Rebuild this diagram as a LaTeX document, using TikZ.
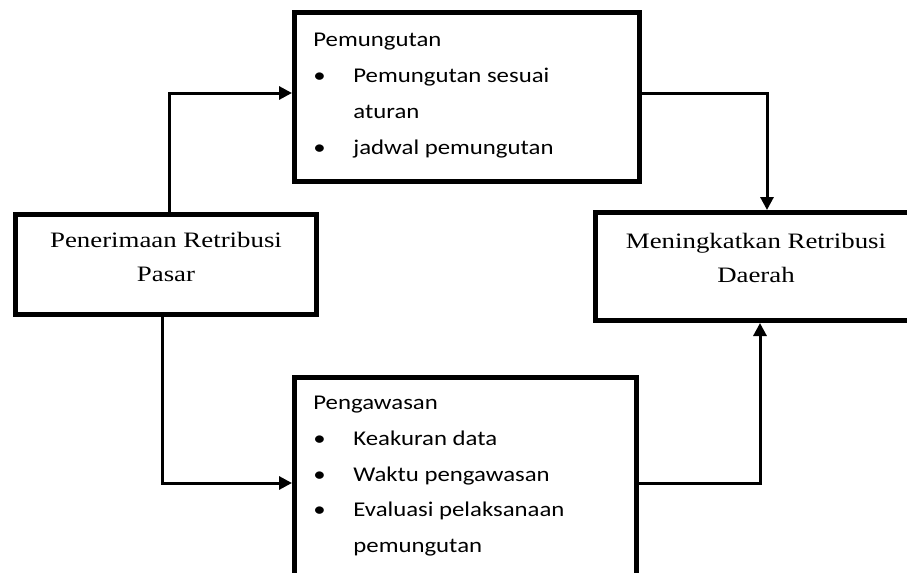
\documentclass[tikz,border=0pt]{standalone}
\usepackage{fontspec}
\usepackage{tikz}
\usetikzlibrary{arrows.meta}
\newfontfamily\titlefont[FakeStretch=1.22]{Liberation Serif}
\newfontfamily\listfont[FakeStretch=1.18]{Carlito}
\newcommand{\itm}{\makebox[20pt][l]{\textbullet}}
\tikzset{
  box/.style={draw, line width=2.5pt, inner sep=0pt},
  conn/.style={line width=1.5pt, -{Triangle[length=6.5pt,width=6.5pt]}},
  title/.style={font=\titlefont\fontsize{11}{17.2}\selectfont, inner sep=0pt, anchor=base},
  list/.style={font=\listfont\fontsize{10.5}{17.9}\selectfont, inner sep=0pt, anchor=base west}
}

\begin{document}
\begin{tikzpicture}[x=0.5pt,y=-0.5pt]
\useasboundingbox (0,0) rectangle (907,573);
\clip (0,0) rectangle (907,573);
\node[box, minimum width=172.5pt, minimum height=84.5pt] (tbox) at (467,97) {};
\node[box, minimum width=150.5pt, minimum height=50pt] (lbox) at (166,264.5) {};
\node[box, minimum width=160.5pt, minimum height=54pt] (rbox) at (756,266.5) {};
\node[box, minimum width=171pt, minimum height=116pt] (bbox) at (465.5,493.5) {};
\node[title] (ltext) at (166,247.5) {\begin{tabular}[t]{@{}c@{}}Penerimaan Retribusi\\Pasar\end{tabular}};
\node[title] (rtext) at (756,248) {\begin{tabular}[t]{@{}c@{}}Meningkatkan Retribusi\\Daerah\end{tabular}};
\node[list] (tlist) at (313,46.7) {\begin{tabular}[t]{@{}l@{}}Pemungutan\\
  \itm Pemungutan sesuai\\
  \hspace{20pt}aturan\\
  \itm jadwal pemungutan\end{tabular}};
\node[list] (blist) at (313,409.5) {\begin{tabular}[t]{@{}l@{}}Pengawasan\\
  \itm Keakuran data\\
  \itm Waktu pengawasan\\
  \itm Evaluasi pelaksanaan\\
  \hspace{20pt}pemungutan\end{tabular}};
\coordinate (c1) at (169,93);
\coordinate (c2) at (767,93);
\coordinate (c3) at (162,483);
\coordinate (c4) at (760,483);
\draw[conn] (lbox.north -| c1) -- (c1) -- (tbox.west |- c1);
\draw[conn] (tbox.east |- c2) -- (c2) -- (rbox.north -| c2);
\draw[conn] (lbox.south -| c3) -- (c3) -- (bbox.west |- c3);
\draw[conn] (bbox.east |- c4) -- (c4) -- (rbox.south -| c4);
\end{tikzpicture}
\end{document}
